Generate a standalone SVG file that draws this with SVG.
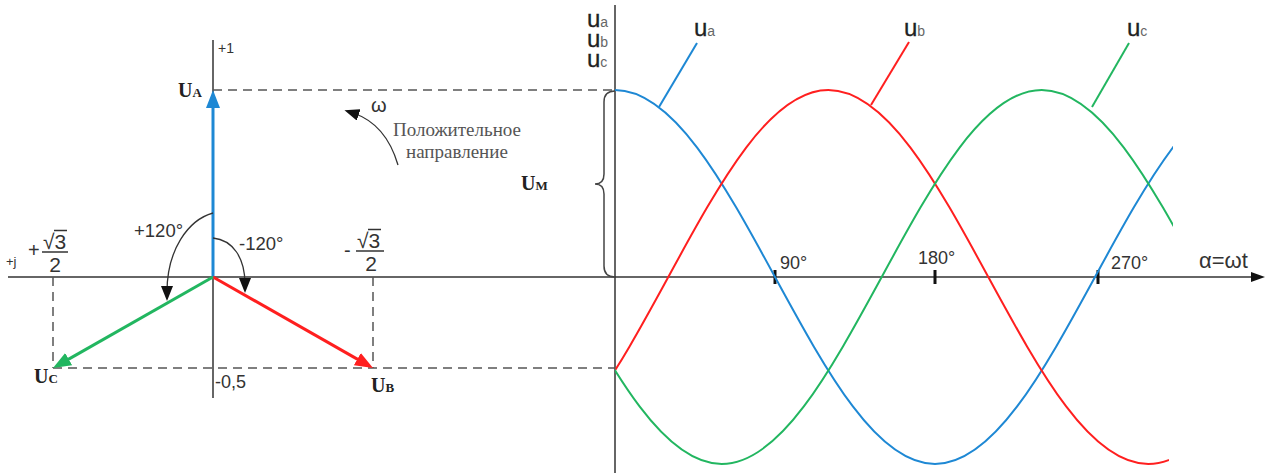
<svg xmlns="http://www.w3.org/2000/svg" width="1269" height="473" viewBox="0 0 1269 473">
<style>
.ax{stroke:#333;stroke-width:1.5;fill:none}
.dash{stroke:#555;stroke-width:1.5;stroke-dasharray:9 6;fill:none}
.sans{font-family:"Liberation Sans",Arial,sans-serif;fill:#333}
.u{font-family:"Liberation Sans",Arial,sans-serif;fill:#222;stroke:#222;stroke-width:0.3}
.sub{font-family:"Liberation Sans",Arial,sans-serif;fill:#666;stroke:none}
.ub{font-family:"Liberation Serif","Times New Roman",serif;font-weight:bold;fill:#222}
.ru{font-family:"Liberation Serif","Times New Roman",serif;fill:#555;font-size:19px}
.curve{fill:none;stroke-width:2}
.vec{stroke-width:3;fill:none}
.tick{stroke:#111;stroke-width:3}
.arc{stroke:#333;stroke-width:1.3;fill:none}
.frac{stroke:#333;stroke-width:1.5}
</style>
<defs>
<marker id="mBlue" viewBox="0 0 18 14" refX="8" refY="7" markerWidth="18" markerHeight="14" markerUnits="userSpaceOnUse" orient="auto"><path d="M0,0 L18,7 L0,14 z" fill="#1e88d4"/></marker>
<marker id="mRed" viewBox="0 0 18 14" refX="8" refY="7" markerWidth="18" markerHeight="14" markerUnits="userSpaceOnUse" orient="auto"><path d="M0,0 L18,7 L0,14 z" fill="#ff1f1f"/></marker>
<marker id="mGreen" viewBox="0 0 18 14" refX="8" refY="7" markerWidth="18" markerHeight="14" markerUnits="userSpaceOnUse" orient="auto"><path d="M0,0 L18,7 L0,14 z" fill="#22b660"/></marker>
<marker id="mBlk" viewBox="0 0 15 12" refX="6" refY="6" markerWidth="15" markerHeight="12" markerUnits="userSpaceOnUse" orient="auto"><path d="M0,0 L15,6 L0,12 z" fill="#111"/></marker>
<marker id="mAx" viewBox="0 0 14 10" refX="2" refY="5" markerWidth="14" markerHeight="10" markerUnits="userSpaceOnUse" orient="auto"><path d="M0,0 L14,5 L0,10 z" fill="#111"/></marker>
<clipPath id="clipA"><rect x="615" y="0" width="558" height="473"/></clipPath>
<clipPath id="clipR"><rect x="615" y="0" width="554" height="473"/></clipPath>
</defs>
<rect width="1269" height="473" fill="#fff"/>

<g id="axes">
<line class="ax" x1="8" y1="277" x2="1253" y2="277" marker-end="url(#mAx)"/>
<line class="ax" x1="213" y1="40" x2="213" y2="398"/>
<line class="ax" x1="615" y1="5" x2="615" y2="473"/>
<line class="tick" x1="775" y1="270" x2="775" y2="284"/>
<line class="tick" x1="935" y1="270" x2="935" y2="284"/>
<line class="tick" x1="1098" y1="270" x2="1098" y2="284"/>
</g>

<g id="connectors">
<line class="dash" x1="213" y1="90" x2="615" y2="90"/>
<line class="dash" x1="53" y1="368" x2="615" y2="368"/>
<line class="dash" x1="53" y1="277" x2="53" y2="368"/>
<line class="dash" x1="373" y1="277" x2="373" y2="368"/>
<line class="vec" stroke="#1e88d4" x1="213" y1="277" x2="213" y2="100" marker-end="url(#mBlue)"/>
<line class="vec" stroke="#ff1f1f" x1="213" y1="277" x2="364.3" y2="363.1" marker-end="url(#mRed)"/>
<line class="vec" stroke="#22b660" x1="213" y1="277" x2="61.7" y2="363.1" marker-end="url(#mGreen)"/>
<path class="arc" d="M213,213 C188,220 167,250 167,292" marker-end="url(#mBlk)"/>
<path class="arc" d="M213,238 C233,240 245,258 245,284" marker-end="url(#mBlk)"/>
<path class="arc" d="M398,165 Q386,124 353,113" marker-end="url(#mBlk)"/>
<path d="M615,91 Q604,91 604,102 L604,174 Q604,184 595,184 Q604,184 604,194 L604,266 Q604,277 615,277" fill="none" stroke="#444" stroke-width="1.5"/>
<line stroke="#1e88d4" stroke-width="2" x1="659" y1="107" x2="697" y2="43"/>
<line stroke="#ff1f1f" stroke-width="2" x1="871" y1="105" x2="909" y2="42"/>
<line stroke="#22b660" stroke-width="2" x1="1092" y1="107" x2="1129" y2="43"/>
</g>

<g id="curve-a" clip-path="url(#clipA)">
<path class="curve" stroke="#1e88d4" d="M615,90 C672.9,90 722.8,181.2 775,277 C827.2,372.8 877.1,464 935,464 C992.9,464 1042.8,372.8 1095,277 C1147.2,181.2 1197.1,90 1255,90"/>
</g>
<g id="curve-b" clip-path="url(#clipR)">
<path class="curve" stroke="#ff1f1f" d="M508.3,464 C566.2,464 616.1,372.8 668.3,277 C720.5,181.2 770.4,90 828.3,90 C886.2,90 936.1,181.2 988.3,277 C1040.5,372.8 1090.4,464 1148.3,464 C1206.2,464 1256.1,372.8 1308.3,277"/>
</g>
<g id="curve-c" clip-path="url(#clipA)">
<path class="curve" stroke="#22b660" d="M401.7,90 C459.6,90 509.5,181.2 561.7,277 C613.9,372.8 663.8,464 721.7,464 C779.6,464 829.5,372.8 881.7,277 C933.9,181.2 983.8,90 1041.7,90 C1099.6,90 1149.5,181.2 1201.7,277"/>
</g>

<g id="label-plus1"><text class="sans" x="218" y="53" font-size="14">+1</text></g>
<g id="label-UA"><text class="ub" x="178" y="97" font-size="20">U<tspan font-size="13">A</tspan></text></g>
<g id="label-UB"><text class="ub" x="371" y="392" font-size="20">U<tspan font-size="13">B</tspan></text></g>
<g id="label-UC"><text class="ub" x="34" y="383" font-size="20">U<tspan font-size="13">C</tspan></text></g>
<g id="label-UM"><text class="ub" x="521" y="190" font-size="20">U<tspan font-size="13">M</tspan></text></g>
<g id="label-minus05"><text class="sans" x="215" y="388" font-size="18">-0,5</text></g>
<g id="label-plusj"><text class="sans" x="6" y="266" font-size="13">+j</text></g>
<g id="label-p120"><text class="sans" x="134" y="237" font-size="18.5">+120°</text></g>
<g id="label-m120"><text class="sans" x="239" y="250" font-size="18.5">-120°</text></g>
<g id="frac-left">
<text class="sans" x="28" y="257" font-size="20">+</text>
<text class="sans" x="43" y="249" font-size="21">√3</text>
<line class="frac" x1="54" y1="230.5" x2="67" y2="230.5" stroke-width="1.2"/>
<line class="frac" x1="42" y1="252" x2="68" y2="252"/>
<text class="sans" x="55" y="272" font-size="21" text-anchor="middle">2</text>
</g>
<g id="frac-right">
<text class="sans" x="344" y="257" font-size="20">-</text>
<text class="sans" x="357" y="248" font-size="21">√3</text>
<line class="frac" x1="368" y1="229.5" x2="381" y2="229.5" stroke-width="1.2"/>
<line class="frac" x1="356" y1="251" x2="384" y2="251"/>
<text class="sans" x="371" y="271" font-size="21" text-anchor="middle">2</text>
</g>
<g id="label-omega">
<text class="sans" x="371" y="112" font-size="20">ω</text>
<text class="ru" x="393" y="136">Положительное</text>
<text class="ru" x="406" y="158">направление</text>
</g>
<g id="label-axis-u">
<text class="u" x="587" y="27" font-size="24">u<tspan class="sub" font-size="14">a</tspan></text>
<text class="u" x="587" y="47" font-size="24">u<tspan class="sub" font-size="14">b</tspan></text>
<text class="u" x="587" y="67" font-size="24">u<tspan class="sub" font-size="14">c</tspan></text>
</g>
<g id="label-ua"><text class="u" x="694" y="36" font-size="24">u<tspan class="sub" font-size="14">a</tspan></text></g>
<g id="label-ub"><text class="u" x="904" y="36" font-size="24">u<tspan class="sub" font-size="14">b</tspan></text></g>
<g id="label-uc"><text class="u" x="1127" y="36" font-size="24">u<tspan class="sub" font-size="14">c</tspan></text></g>
<g id="label-ticks">
<text class="sans" x="780" y="269" font-size="18">90°</text>
<text class="sans" x="918" y="264" font-size="18">180°</text>
<text class="sans" x="1111" y="269" font-size="18">270°</text>
<text class="sans" x="1199" y="268" font-size="22">α=ωt</text>
</g>
</svg>
